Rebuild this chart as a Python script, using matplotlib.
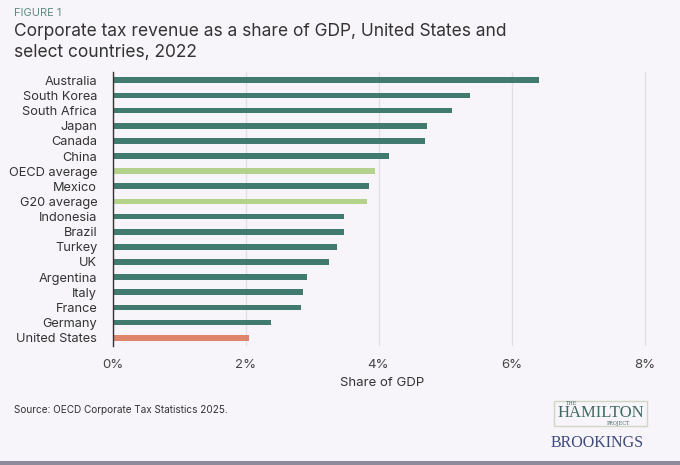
import numpy as np
import matplotlib.pyplot as plt
from matplotlib.patches import Rectangle

# data (share of GDP, %)
countries = ['Australia', 'South Korea', 'South Africa', 'Japan', 'Canada', 'China',
             'OECD average', 'Mexico', 'G20 average', 'Indonesia', 'Brazil', 'Turkey',
             'UK', 'Argentina', 'Italy', 'France', 'Germany', 'United States']
values = [6.42, 5.38, 5.11, 4.73, 4.70, 4.16, 3.95, 3.86, 3.82, 3.48, 3.48, 3.38,
          3.26, 2.92, 2.87, 2.84, 2.39, 2.05]
groups = ['country'] * 6 + ['avg', 'country', 'avg'] + ['country'] * 8 + ['us']
xticks = [0, 2, 4, 6, 8]
xticklabels = ['0%', '2%', '4%', '6%', '8%']

bg = '#f7f5fa'
palette = {'country': '#417a6e', 'avg': '#b5d28c', 'us': '#de856c'}

plt.rcParams['font.family'] = ['Inter', 'DejaVu Sans']

fig = plt.figure(figsize=(6.8, 4.65), dpi=100, facecolor=bg)
# axis spans 0..8.1 so the 8% gridline (at x=644.5px) stays visible
px_per_unit = (644.5 - 112.5) / 8
ax = fig.add_axes([112.5 / 680, 1 - 346 / 465, 8.1 * px_per_unit / 680, (346 - 72) / 465])
ax.set_facecolor(bg)

y = np.arange(len(countries))
ax.barh(y, values, height=0.38, color=[palette[g] for g in groups], zorder=3)

ax.set_xlim(0, 8.1)
ax.set_ylim(len(countries) - 0.45, -0.55)
ax.set_xticks(xticks)
ax.set_xticklabels(xticklabels, fontsize=9.5, color='#444444')
ax.set_yticks(y)
ax.set_yticklabels(countries, fontsize=9.2, color='#333333')
ax.tick_params(axis='both', length=0)
ax.tick_params(axis='x', pad=9)
ax.tick_params(axis='y', pad=11)
ax.grid(axis='x', color='#e0dee4', linewidth=0.9, zorder=0)
for s in ['top', 'right', 'bottom']:
    ax.spines[s].set_visible(False)
ax.spines['left'].set_color('#333333')
ax.spines['left'].set_linewidth(1.0)
ax.spines['left'].set_zorder(4)
ax.set_xlabel('Share of GDP', fontsize=9.5, color='#333333', labelpad=5)

# header
fig.text(14 / 680, 1 - 13 / 465, 'FIGURE 1', fontsize=8, color='#5d8a7f', va='center')
fig.text(14 / 680, 1 - 42 / 465,
         'Corporate tax revenue as a share of GDP, United States and\nselect countries, 2022',
         fontsize=12.5, color='#333333', va='center', linespacing=1.25)

# footer
fig.text(14 / 680, 1 - 410 / 465, 'Source: OECD Corporate Tax Statistics 2025.',
         fontsize=7.2, color='#333333', va='center')

# logos as text
fig.patches.append(Rectangle((554 / 680, 1 - 426 / 465), 93 / 680, 25 / 465,
                             transform=fig.transFigure, fill=False,
                             edgecolor='#d2d6c4', linewidth=1.0))
fig.text(572 / 680, 1 - 403.5 / 465, 'THE', fontsize=3.5, color='#4d6d66',
         family='DejaVu Serif', ha='center', va='center')
fig.text(600.5 / 680, 1 - 413 / 465, 'HAMILTON', fontsize=12, color='#3f6a62',
         family='Liberation Serif', ha='center', va='center')
fig.text(618 / 680, 1 - 423 / 465, 'PROJECT', fontsize=3.5, color='#4d6d66',
         family='DejaVu Serif', ha='center', va='center')
fig.text(597 / 680, 1 - 443 / 465, 'BROOKINGS', fontsize=11.5, color='#3d4a7c',
         family='Liberation Serif', ha='center', va='center')

fig.patches.append(Rectangle((0, 0), 1, 4 / 465, transform=fig.transFigure,
                             color='#8f8a99', linewidth=0))

fig.savefig('out.png', dpi=100, facecolor=bg)
